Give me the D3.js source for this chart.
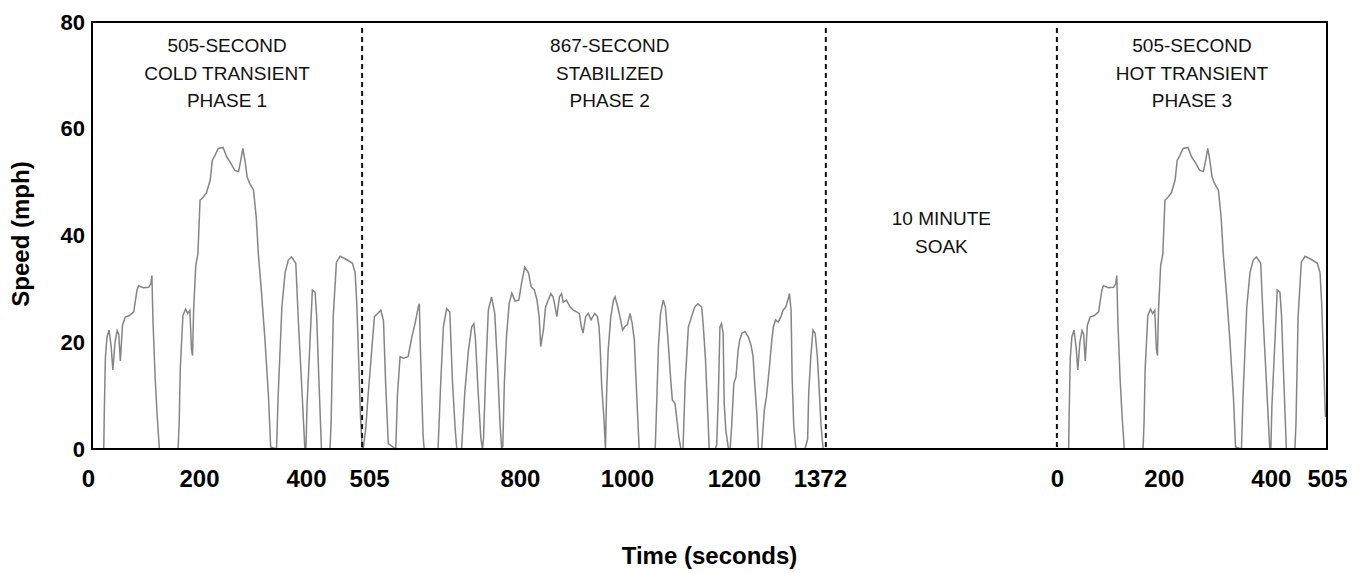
<!DOCTYPE html>
<html>
<head>
<meta charset="utf-8">
<script src="https://cdn.jsdelivr.net/npm/d3@7"></script>
<style>
  body { margin: 0; background: #fff; }
  svg { display: block; }
</style>
</head>
<body>
<div id="chart"></div>
<script>
// speed trace (seconds, mph)
var phase1Time = [0, 20, 22, 23, 25, 28, 32, 36, 39, 43, 47, 50, 53, 57, 62, 70, 78, 84, 87, 96, 106, 110, 112, 114, 118, 122, 126,
  161, 163, 165, 170, 175, 179, 183, 186, 188, 190, 194, 198, 202, 208, 214, 221, 225, 230, 236, 245, 252, 258, 267, 274, 278, 282,
  286, 290, 295, 302, 307, 311, 317, 323, 330, 334, 345, 348, 355, 361, 367, 373, 381, 386, 392, 398, 400, 402, 408, 412, 417, 420, 423,
  429, 445, 447, 451, 457, 464, 476, 487, 492, 495, 498, 502, 505];
var phase1Speed = [0, 0, 0, 7, 17, 21, 22.3, 19, 14.8, 20, 22.2, 21.5, 16.5, 23.2, 24.7, 25, 25.7, 29.7, 30.6, 30.2, 30.3, 31, 32.5, 24, 13.5, 6, 0,
  0, 5, 15, 25, 26.2, 25.4, 26, 18.7, 17.5, 26, 34.4, 36.5, 46.6, 47.2, 48, 50.4, 54.1, 55, 56.3, 56.5, 54.7, 53.8, 52.2, 52, 54, 56.3,
  54.1, 51, 49.7, 48.5, 43.5, 36.6, 29.2, 21, 9.8, 0.4, 0, 9.8, 26.6, 33, 35.4, 36, 34.8, 23.6, 12, 0, 0, 8, 21, 29.8, 29.4, 25, 16.3,
  0, 0, 4.8, 24.8, 35, 36.1, 35.5, 34.8, 33, 27.3, 18.5, 6, 0.5];

var phase2Time = [505, 507, 512, 516, 523, 528, 534, 540, 545, 549, 554, 568, 571, 576, 582, 591, 598, 604, 610, 612, 614, 619, 621,
  647, 652, 657, 663, 669, 674, 679, 682, 691, 697, 704, 710, 714, 717, 722, 727, 730, 732, 736, 741, 747, 753, 758, 763, 766, 768,
  771, 775, 780, 785, 791, 798, 803, 809, 816, 821, 827, 832, 836, 839, 844, 848, 853, 858, 862, 866, 869, 874, 878, 881, 884, 887,
  894, 900, 906, 911, 915, 918, 923, 928, 933, 940, 945, 948, 950, 953, 957, 960, 962, 965, 970, 975, 978, 983, 987, 992, 996, 1001,
  1006, 1010, 1014, 1016, 1020, 1023, 1053, 1056, 1059, 1063, 1068, 1072, 1077, 1082, 1085, 1090, 1093, 1097, 1101, 1105, 1109, 1115,
  1121, 1127, 1133, 1140, 1143, 1147, 1151, 1154, 1165, 1168, 1171, 1174, 1177, 1180, 1182, 1185, 1190, 1193, 1196, 1200, 1204, 1208,
  1211, 1215, 1221, 1227, 1232, 1236, 1239, 1243, 1246, 1252, 1257, 1261, 1266, 1271, 1274, 1278, 1283, 1288, 1292, 1297, 1301, 1304,
  1307, 1309, 1312, 1316, 1333, 1338, 1340, 1344, 1348, 1352, 1356, 1359, 1363, 1367, 1372];
var phase2Speed = [0, 0, 4, 9.8, 18.5, 24.8, 25.4, 26, 24, 12.3, 1, 0, 10, 17.3, 17, 17.3, 21, 23.5, 26.6, 27.2, 18.7, 2.5, 0,
  0, 12.5, 22.9, 26.3, 25.6, 12.5, 3.8, 0, 0, 10.6, 18.7, 22.9, 23.5, 20.4, 10.6, 2, 0, 2, 14, 26, 28.5, 25.4, 16, 4.4, 0, 0.5,
  12.5, 21.2, 27.3, 29.2, 27.7, 27.9, 31, 34.1, 33, 30.4, 29.8, 27.9, 24.8, 19.2, 22.3, 26.6, 27.9, 29.1, 28.5, 26.6, 24.8, 28.5, 29.1, 27.5, 27.7, 27.9,
  26.6, 26, 25.7, 25.4, 22.9, 21.7, 24.8, 25.4, 24.2, 25.4, 24.8, 22.9, 19.2, 11.7, 6, 0, 10, 18.5, 24.8, 27.9, 28.5, 26.6, 24.8, 22.3, 22.9, 23.3,
  25.4, 23.5, 20.4, 15.4, 6.6, 0, 0, 9.2, 19.2, 25.4, 27.9, 26.6, 20.4, 12.9, 9.2, 8.5, 6, 2.3, 0, 0, 12.3, 22.9,
  24.8, 26.6, 27.2, 26.6, 22.9, 16.8, 7.3, 0, 0, 0.8, 10, 22.9, 23.5, 21.7, 8.5, 3.5, 0, 0, 4.4, 12.3, 13.5, 18.5,
  20.4, 21.7, 22, 21, 19.5, 17.3, 12.3, 6.6, 0, 0, 7.3, 9.8, 14.8, 20.4, 22.9, 24.2, 23.8, 24.8, 26, 26.6, 27.9, 29.1,
  26, 13.5, 4.4, 0, 0, 1.9, 10.6, 17.5, 22.3, 21.7, 17.5, 12.3, 4.4, 0, 0];

// hot transient repeats the cold transient schedule
var phase3Time = phase1Time;
var phase3Speed = phase1Speed;

var coldTicks = [0, 200, 400, 505, 800, 1000, 1200, 1372];
var hotTicks = [0, 200, 400, 505];
var speedTicks = [0, 20, 40, 60, 80];

var phaseLabels = [
  ["505-SECOND", "COLD TRANSIENT", "PHASE 1"],
  ["867-SECOND", "STABILIZED", "PHASE 2"],
  ["10 MINUTE", "SOAK"],
  ["505-SECOND", "HOT TRANSIENT", "PHASE 3"]
];

var svgWidth = 1372, svgHeight = 573;
var plotLeft = 92, plotRight = 1327, plotTop = 22, plotBottom = 449;
var soakGap = 432;           // width given to the soak period on the time axis
var hotStart = 1372 + soakGap;

var svg = d3.select("#chart").append("svg")
  .attr("width", svgWidth)
  .attr("height", svgHeight);

var x = d3.scaleLinear().domain([0, hotStart + 505]).range([plotLeft, plotRight]);
var y = d3.scaleLinear().domain([0, 80]).range([plotBottom, plotTop]);

// speed trace
function toPoints(ts, vs, offset) {
  return ts.map(function(t, i) { return {t: t + offset, v: vs[i]}; });
}
var line = d3.line()
  .x(function(d) { return x(d.t); })
  .y(function(d) { return y(d.v); });

var trace1 = toPoints(phase1Time, phase1Speed, 0).concat(toPoints(phase2Time, phase2Speed, 0));
var trace3 = toPoints(phase3Time, phase3Speed, hotStart).filter(function(d) { return d.t <= hotStart + 503; });

svg.selectAll("path.trace")
  .data([trace1, trace3])
  .enter().append("path")
  .attr("class", "trace")
  .attr("d", line)
  .attr("fill", "none")
  .attr("stroke", "#858585")
  .attr("stroke-width", 1.5);

// phase dividers
svg.selectAll("line.divider")
  .data([505, 1372, hotStart])
  .enter().append("line")
  .attr("x1", function(d) { return x(d); })
  .attr("x2", function(d) { return x(d); })
  .attr("y1", plotTop + 6)
  .attr("y2", plotBottom)
  .attr("stroke", "#111")
  .attr("stroke-width", 2)
  .attr("stroke-dasharray", "5,4");

// frame
svg.append("rect")
  .attr("x", plotLeft).attr("y", plotTop)
  .attr("width", plotRight - plotLeft).attr("height", plotBottom - plotTop)
  .attr("fill", "none")
  .attr("stroke", "#000")
  .attr("stroke-width", 2);

// axes
var xTicks = coldTicks.concat(hotTicks.map(function(t) { return t + hotStart; }));
var nudge = {0: -4, 505: 7, 1372: -6};   // labels at the phase edges sit a little off the tick
var xAxis = d3.axisBottom(x)
  .tickValues(xTicks)
  .tickSize(0)
  .tickPadding(0)
  .tickFormat(function(d) { return d >= hotStart ? d - hotStart : d; });

var gx = svg.append("g")
  .attr("transform", "translate(0," + plotBottom + ")")
  .call(xAxis);
gx.select(".domain").remove();
gx.selectAll("text")
  .attr("dy", null)
  .attr("y", 38)
  .attr("x", function(d) { return d < hotStart && nudge[d] ? nudge[d] : 0; })
  .style("font-family", "'Liberation Sans', Arial, sans-serif")
  .style("font-weight", "bold")
  .style("font-size", "24px")
  .attr("fill", "#000");

var gy = svg.append("g")
  .attr("transform", "translate(" + plotLeft + ",0)")
  .call(d3.axisLeft(y).tickValues(speedTicks).tickSize(0).tickPadding(7));
gy.select(".domain").remove();
gy.selectAll("text")
  .style("font-family", "'Liberation Sans', Arial, sans-serif")
  .style("font-weight", "bold")
  .style("font-size", "22px")
  .attr("fill", "#000");

// axis titles
svg.append("text")
  .attr("x", (plotLeft + plotRight) / 2)
  .attr("y", 564)
  .attr("text-anchor", "middle")
  .style("font-family", "'Liberation Sans', Arial, sans-serif")
  .style("font-weight", "bold")
  .style("font-size", "24px")
  .text("Time (seconds)");

svg.append("text")
  .attr("transform", "translate(29," + 234 + ") rotate(-90)")
  .attr("text-anchor", "middle")
  .style("font-family", "'Liberation Sans', Arial, sans-serif")
  .style("font-weight", "bold")
  .style("font-size", "24px")
  .text("Speed (mph)");

// phase annotations
var labelPos = [
  {t: 252.5, y: 52},
  {t: 968, y: 52},
  {t: 1372 + soakGap / 2, y: 225},
  {t: hotStart + 252.5, y: 52}
];
phaseLabels.forEach(function(lines, i) {
  var txt = svg.append("text")
    .attr("text-anchor", "middle")
    .style("font-family", "'Liberation Sans', Arial, sans-serif")
    .style("font-size", "19px")
    .attr("fill", "#111");
  lines.forEach(function(s, j) {
    txt.append("tspan")
      .attr("x", x(labelPos[i].t))
      .attr("y", labelPos[i].y + j * 27.7)
      .text(s);
  });
});
</script>
</body>
</html>
